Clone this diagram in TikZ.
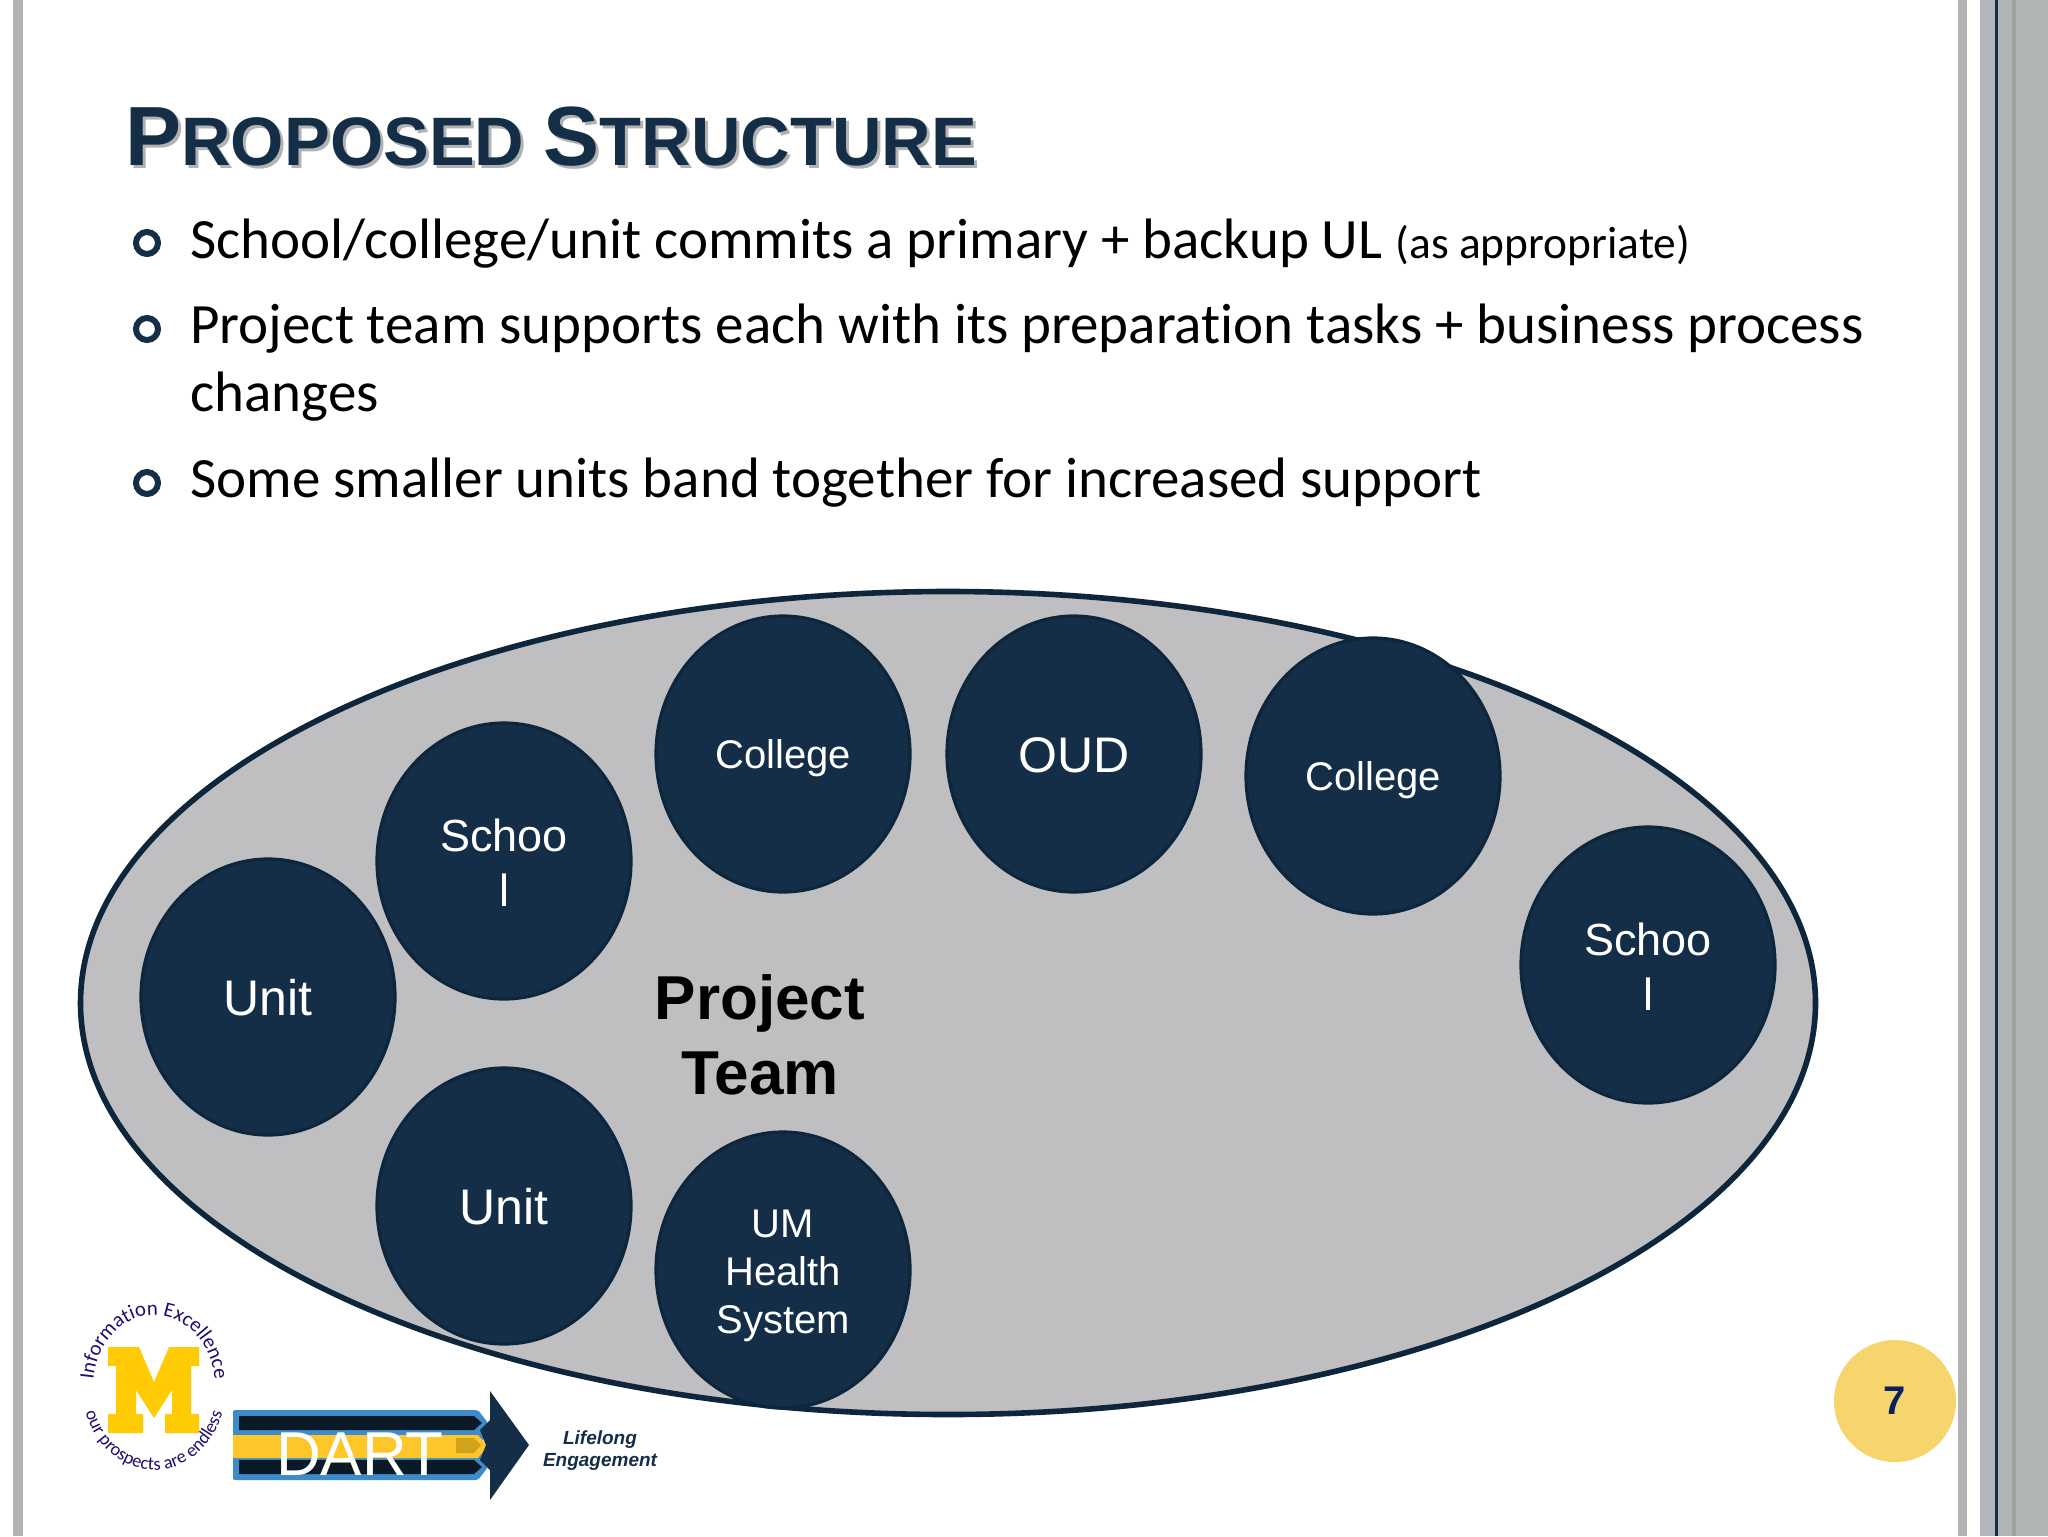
\documentclass[tikz,border=0pt]{standalone}
\usepackage{fontspec}
\setmainfont{Liberation Sans}
\newfontfamily\bodyfont[Ligatures=NoCommon]{Carlito}
\newfontfamily\logofont{Carlito}
\usetikzlibrary{shapes.geometric,decorations.text}
\definecolor{navy}{HTML}{152E48}
\definecolor{navyline}{HTML}{0D263C}
\definecolor{ovalgray}{HTML}{BFBEC0}
\definecolor{barg}{HTML}{B3B3B3}
\definecolor{barlilac}{HTML}{B5B5BD}
\definecolor{barb}{HTML}{B1B5B6}
\definecolor{bard}{HTML}{9EA2A3}
\definecolor{gold}{HTML}{F5D56C}
\definecolor{sevenc}{HTML}{0A2060}
\definecolor{mgold}{HTML}{FFCB05}
\definecolor{dblue}{HTML}{3D8BCB}
\definecolor{stripe}{HTML}{0C1A28}
\definecolor{stripey}{HTML}{FFC62A}
\definecolor{stripeyd}{HTML}{CFA31A}
\definecolor{logotext}{HTML}{1B1070}
\newcommand{\fs}[1]{\fontsize{#1}{#1}\selectfont}
\newcommand{\fsl}[2]{\fontsize{#1}{#2}\selectfont}
\newcommand{\dn}[1]{\rule{0pt}{#1pt}}
\tikzset{
  unitnode/.style={ellipse,draw=navyline,line width=1.6pt,fill=navy,minimum width=127pt,minimum height=138pt,inner sep=0pt,text=white,align=center},
  bigt/.style={font=\fsl{25}{27.5}},
  midt/.style={font=\fsl{22.5}{27.5}},
  smallt/.style={font=\fsl{20}{24}},
  bullettext/.style={anchor=base west,inner sep=0pt,font=\bodyfont\fs{28.5}},
  ring/.style={circle,draw=navy,line width=3pt,minimum size=11pt,inner sep=0pt},
  titletext/.style={anchor=base west,inner sep=0pt,font=\bfseries},
}
\newcommand{\titlestr}{{\fs{42}P}{\fs{34.3}ROPOSED }{\fs{42}S}{\fs{34.3}TRUCTURE}}
\begin{document}
\begin{tikzpicture}[x=0.5pt,y=-0.5pt]
\useasboundingbox (0,0) rectangle (2048,1536);
\fill[white] (0,0) rectangle (2048,1536);
% frame
\fill[barg] (13,0) rectangle (23,1536);
\fill[barg] (1958,0) rectangle (1967,1536);
\fill[barlilac] (1980,0) rectangle (1995,1536);
\fill[navy] (1995,0) rectangle (1998,1536);
\fill[barb] (1998,0) rectangle (2048,1536);
\fill[bard] (2012,0) rectangle (2016,1536);
% title
\node[titletext,text=gray,opacity=.6] at (128,168) {\titlestr};
\node[titletext,text=navy] (title) at (125,165) {\titlestr};
% bullets
\node[ring] (r1) at (147,243) {};
\node[ring] (r2) at (147,329) {};
\node[ring] (r3) at (147,483) {};
\node[bullettext] (b1) at (190,258) {School/college/unit commits a primary + backup UL {\fs{22.7}(as appropriate)}};
\node[bullettext] (b2) at (190,343) {Project team supports each with its preparation tasks + business process};
\node[bullettext] (b2b) at (190,411) {changes};
\node[bullettext] (b3) at (190,497) {Some smaller units band together for increased support};
% oval
\node[ellipse,draw=navyline,line width=2.8pt,fill=ovalgray,minimum width=867.5pt,minimum height=411.5pt,inner sep=0pt] (team) at (948,1003) {};
\node[unitnode,bigt] (u1) at (268,997) {\dn{18.8}Unit};
\node[unitnode,midt] (s1) at (504,861) {\dn{18}Schoo\\l};
\node[unitnode,smallt] (c1) at (783,754) {\dn{19}College};
\node[unitnode,bigt] (oud) at (1074,754) {\dn{18.8}OUD};
\node[unitnode,smallt] (c2) at (1373,776) {\dn{19}College};
\node[unitnode,midt] (s2) at (1648,965) {\dn{18}Schoo\\l};
\node[unitnode,bigt] (u2) at (504,1206) {\dn{18.8}Unit};
\node[unitnode,smallt] (um) at (783,1270) {\dn{19.5}UM\\Health\\System};
\node[align=center,inner sep=0pt,font=\bfseries\fsl{31}{37.5}] (pt) at (760,1035) {Project\\Team};
% page number
\node[circle,fill=gold,minimum size=61pt,inner sep=0pt,text=sevenc,font=\bfseries\fs{20}] (pg) at (1895,1401) {7};
% logo
\fill[mgold] (108,1347) -- (139,1347) -- (154,1382) -- (169,1347) -- (199,1347) -- (199,1366) -- (191,1366) -- (191,1414) -- (199,1414) -- (199,1433) -- (165,1433) -- (165,1414) -- (172,1414) -- (172,1390) -- (154,1418) -- (136,1390) -- (136,1414) -- (143,1414) -- (143,1433) -- (108,1433) -- (108,1414) -- (116,1414) -- (116,1366) -- (108,1366) -- cycle;
\path[decorate,decoration={text along path,text align=center,text={|\logofont\fs{10.4}\color{logotext}|Information Excellence}}]
  (93.6,1377) arc[start angle=188,end angle=352,x radius=61,y radius=72];
\path[decorate,decoration={text along path,text align=center,text={|\logofont\fs{9.2}\color{logotext}|our prospects are endless}}]
  (83.6,1404.3) arc[start angle=168,end angle=12,x radius=72,y radius=83];
% DART
\fill[dblue,rounded corners=1pt] (233,1410) -- (478,1410) -- (488,1423) -- (482,1445) -- (488,1467) -- (478,1480) -- (233,1480) -- cycle;
\fill[stripe] (239,1416) -- (474,1416) -- (482,1423) -- (474,1430) -- (239,1430) -- cycle;
\fill[stripe] (239,1460) -- (474,1460) -- (482,1467) -- (474,1474) -- (239,1474) -- cycle;
\fill[stripey] (233,1435) -- (478,1435) -- (488,1446) -- (478,1458) -- (233,1458) -- cycle;
\fill[stripeyd] (456,1438) -- (474,1438) -- (481,1445) -- (474,1453) -- (456,1453) -- cycle;
\fill[navy] (490,1391) -- (529,1445) -- (490,1500) -- cycle;
\fill[navy] (480,1430) -- (490,1420) -- (490,1470) -- (480,1460) -- (486,1445) -- cycle;
\node[inner sep=0pt,text=white,font=\fs{31},anchor=base] (dart) at (360,1475) {DART};
\node[inner sep=0pt,align=center,text=navy,font=\bfseries\itshape\fsl{9.5}{11}] (life) at (600,1451) {Lifelong\\Engagement};
\end{tikzpicture}
\end{document}
